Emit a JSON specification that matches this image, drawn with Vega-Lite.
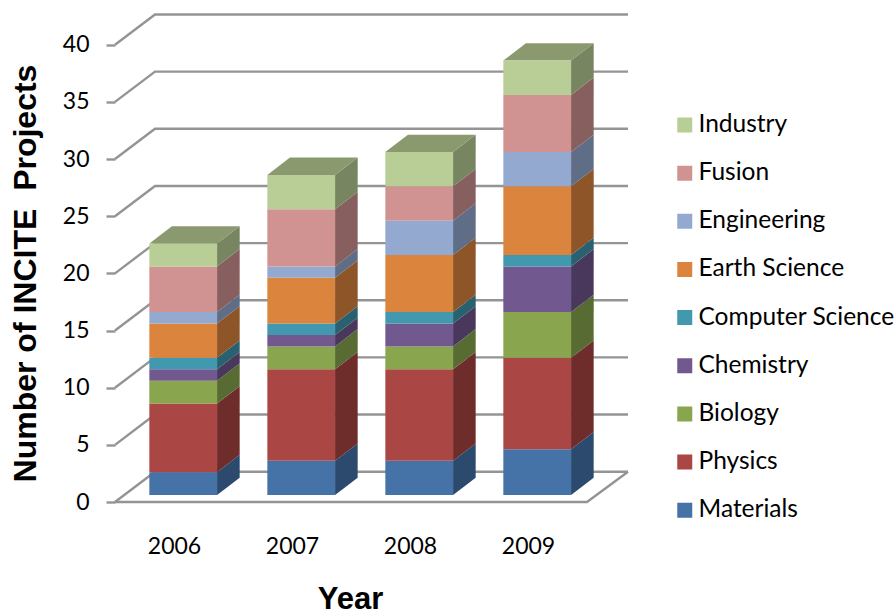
{
  "$schema": "https://vega.github.io/schema/vega-lite/v6.json",
  "width": 513,
  "height": 488,
  "padding": {"left": 115, "top": 14, "right": 268, "bottom": 110},
  "autosize": {"type": "none"},
  "background": "white",
  "config": {"view": {"stroke": null}},
  "datasets": {
    "levels": [{"level": 0}, {"level": 5}, {"level": 10}, {"level": 15}, {"level": 20}, {"level": 25}, {"level": 30}, {"level": 35}, {"level": 40}],
    "floorEdge": [{"slot": 0, "height": 0}, {"slot": 4, "height": 0}, {"slot": 4.3475, "height": 2.65}],
    "projects": [
      {"year": 2006, "field": "Materials", "projects": 2},
      {"year": 2006, "field": "Physics", "projects": 6},
      {"year": 2006, "field": "Biology", "projects": 2},
      {"year": 2006, "field": "Chemistry", "projects": 1},
      {"year": 2006, "field": "Computer Science", "projects": 1},
      {"year": 2006, "field": "Earth Science", "projects": 3},
      {"year": 2006, "field": "Engineering", "projects": 1},
      {"year": 2006, "field": "Fusion", "projects": 4},
      {"year": 2006, "field": "Industry", "projects": 2},
      {"year": 2007, "field": "Materials", "projects": 3},
      {"year": 2007, "field": "Physics", "projects": 8},
      {"year": 2007, "field": "Biology", "projects": 2},
      {"year": 2007, "field": "Chemistry", "projects": 1},
      {"year": 2007, "field": "Computer Science", "projects": 1},
      {"year": 2007, "field": "Earth Science", "projects": 4},
      {"year": 2007, "field": "Engineering", "projects": 1},
      {"year": 2007, "field": "Fusion", "projects": 5},
      {"year": 2007, "field": "Industry", "projects": 3},
      {"year": 2008, "field": "Materials", "projects": 3},
      {"year": 2008, "field": "Physics", "projects": 8},
      {"year": 2008, "field": "Biology", "projects": 2},
      {"year": 2008, "field": "Chemistry", "projects": 2},
      {"year": 2008, "field": "Computer Science", "projects": 1},
      {"year": 2008, "field": "Earth Science", "projects": 5},
      {"year": 2008, "field": "Engineering", "projects": 3},
      {"year": 2008, "field": "Fusion", "projects": 3},
      {"year": 2008, "field": "Industry", "projects": 3},
      {"year": 2009, "field": "Materials", "projects": 4},
      {"year": 2009, "field": "Physics", "projects": 8},
      {"year": 2009, "field": "Biology", "projects": 4},
      {"year": 2009, "field": "Chemistry", "projects": 4},
      {"year": 2009, "field": "Computer Science", "projects": 1},
      {"year": 2009, "field": "Earth Science", "projects": 6},
      {"year": 2009, "field": "Engineering", "projects": 3},
      {"year": 2009, "field": "Fusion", "projects": 5},
      {"year": 2009, "field": "Industry", "projects": 3}
    ]
  },
  "layer": [
    {
      "description": "Back wall gridlines, running from the front axis to the rear plane",
      "data": {"name": "levels"},
      "transform": [
        {"calculate": "[0, 1, 2]", "as": "t"},
        {"flatten": ["t"]},
        {"calculate": "datum.t === 0 ? 0 : datum.t === 1 ? 0.339 : 4.3475", "as": "wx"},
        {"calculate": "datum.t === 0 ? datum.level : datum.level + 2.65", "as": "wy"}
      ],
      "mark": {"type": "line", "color": "#949494", "strokeWidth": 2.4, "interpolate": "linear"},
      "encoding": {
        "x": {
          "field": "wx", "type": "quantitative",
          "scale": {"domain": [0, 4.3475], "nice": false, "zero": false},
          "axis": {
            "title": "Year", "titleFont": "Liberation Sans", "titleFontWeight": "bold", "titleFontSize": 31, "titleColor": "#000",
            "titleX": 235, "titleY": 106, "titleBaseline": "alphabetic", "titleAnchor": "middle",
            "values": [0.5, 1.5, 2.5, 3.5], "labelExpr": "2006 + floor(datum.value)",
            "labelFont": "Lato", "labelFontSize": 23, "labelColor": "#000", "labelPadding": 44, "labelBaseline": "middle",
            "domain": false, "ticks": false, "grid": false, "labelFlush": false, "labelOverlap": false
          }
        },
        "y": {
          "field": "wy", "type": "quantitative",
          "scale": {"domain": [0, 42.69], "nice": false},
          "axis": {
            "title": "Number of INCITE\u00a0 Projects", "titleFont": "Liberation Sans", "titleFontWeight": "bold", "titleFontSize": 32, "titleColor": "#000",
            "titleX": -80, "titleY": 259, "titleAngle": -90, "titleAnchor": "middle", "titleBaseline": "alphabetic",
            "values": [0, 5, 10, 15, 20, 25, 30, 35, 40],
            "labelFont": "Lato", "labelFontSize": 23, "labelColor": "#000", "labelPadding": 17,
            "domain": false, "grid": false, "tickSize": 9, "tickColor": "#949494", "tickWidth": 2.4, "labelOverlap": false
          }
        },
        "detail": {"field": "level"},
        "order": {"field": "t"}
      }
    },
    {
      "description": "Front edge of the floor",
      "data": {"name": "floorEdge"},
      "mark": {"type": "line", "color": "#949494", "strokeWidth": 2.4},
      "encoding": {
        "x": {"field": "slot", "type": "quantitative", "scale": {"domain": [0, 4.3475], "nice": false, "zero": false}},
        "y": {"field": "height", "type": "quantitative", "scale": {"domain": [0, 42.69], "nice": false}}
      }
    },
    {
      "description": "Vertical value axis line",
      "mark": {"type": "rule", "color": "#949494", "strokeWidth": 2.4},
      "encoding": {
        "x": {"datum": 0, "type": "quantitative"},
        "y": {"datum": 0, "type": "quantitative"},
        "y2": {"datum": 40}
      }
    },
    {
      "description": "Stacked columns: shaded side faces, top caps, then front faces",
      "data": {"name": "projects"},
      "transform": [
        {"calculate": "indexof(['Materials','Physics','Biology','Chemistry','Computer Science','Earth Science','Engineering','Fusion','Industry'], datum.field)", "as": "rank"},
        {"stack": "projects", "groupby": ["year"], "sort": [{"field": "rank", "order": "ascending"}], "as": ["v0", "v1"]},
        {"calculate": "datum.year - 2006 + 0.291", "as": "left"},
        {"calculate": "datum.left + 0.574", "as": "right"},
        {"calculate": "datum.v0 + 0.612", "as": "low"},
        {"calculate": "datum.v1 + 0.612", "as": "high"},
        {"calculate": "[0, 1]", "as": "t"}
      ],
      "resolve": {"scale": {"color": "independent"}},
      "layer": [
        {
          "transform": [
            {"flatten": ["t"]},
            {"calculate": "datum.right + datum.t * 0.1915", "as": "sx"},
            {"calculate": "datum.low + datum.t * 1.514", "as": "sLow"},
            {"calculate": "datum.high + datum.t * 1.514", "as": "sHigh"}
          ],
          "mark": {"type": "area", "interpolate": "linear"},
          "encoding": {
            "x": {"field": "sx", "type": "quantitative", "scale": {"domain": [0, 4.3475], "nice": false, "zero": false}},
            "y": {"field": "sLow", "type": "quantitative", "scale": {"domain": [0, 42.69], "nice": false}},
            "y2": {"field": "sHigh"},
            "detail": {"field": "year"},
            "color": {
              "field": "field", "type": "nominal", "legend": null,
              "scale": {
                "domain": ["Industry", "Fusion", "Engineering", "Earth Science", "Computer Science", "Chemistry", "Biology", "Physics", "Materials"],
                "range": ["#788561", "#875f5e", "#5f6d86", "#8d5528", "#2a6171", "#49385c", "#576b32", "#6e2c2b", "#2c4a6e"]
              }
            }
          }
        },
        {
          "transform": [
            {"filter": "datum.field === 'Industry'"},
            {"flatten": ["t"]},
            {"calculate": "datum.left + datum.t * 0.1915", "as": "tLeft"},
            {"calculate": "datum.right + datum.t * 0.1915", "as": "tRight"},
            {"calculate": "datum.high + datum.t * 1.514", "as": "tHeight"}
          ],
          "mark": {"type": "area", "orient": "horizontal", "interpolate": "linear", "fill": "#8a9a6e"},
          "encoding": {
            "y": {"field": "tHeight", "type": "quantitative", "scale": {"domain": [0, 42.69], "nice": false}},
            "x": {"field": "tLeft", "type": "quantitative", "scale": {"domain": [0, 4.3475], "nice": false, "zero": false}},
            "x2": {"field": "tRight"},
            "detail": {"field": "year"}
          }
        },
        {
          "mark": {"type": "rect"},
          "encoding": {
            "x": {"field": "left", "type": "quantitative", "scale": {"domain": [0, 4.3475], "nice": false, "zero": false}},
            "x2": {"field": "right"},
            "y": {"field": "low", "type": "quantitative", "scale": {"domain": [0, 42.69], "nice": false}},
            "y2": {"field": "high"},
            "color": {
              "field": "field", "type": "nominal",
              "scale": {
                "domain": ["Industry", "Fusion", "Engineering", "Earth Science", "Computer Science", "Chemistry", "Biology", "Physics", "Materials"],
                "range": ["#b9cd96", "#d19392", "#93a9cf", "#db843d", "#4198af", "#71588f", "#89a54e", "#aa4643", "#4572a7"]
              },
              "legend": {
                "title": null, "orient": "none", "legendX": 557.5, "legendY": 98, "padding": 0,
                "symbolType": "square", "symbolSize": 225, "symbolStrokeWidth": 0,
                "labelFont": "Lato", "labelFontSize": 24.5, "labelColor": "#000", "labelOffset": 1.5,
                "rowPadding": 22.15, "labelLimit": 260, "clipHeight": 26
              }
            }
          }
        }
      ]
    }
  ]
}
